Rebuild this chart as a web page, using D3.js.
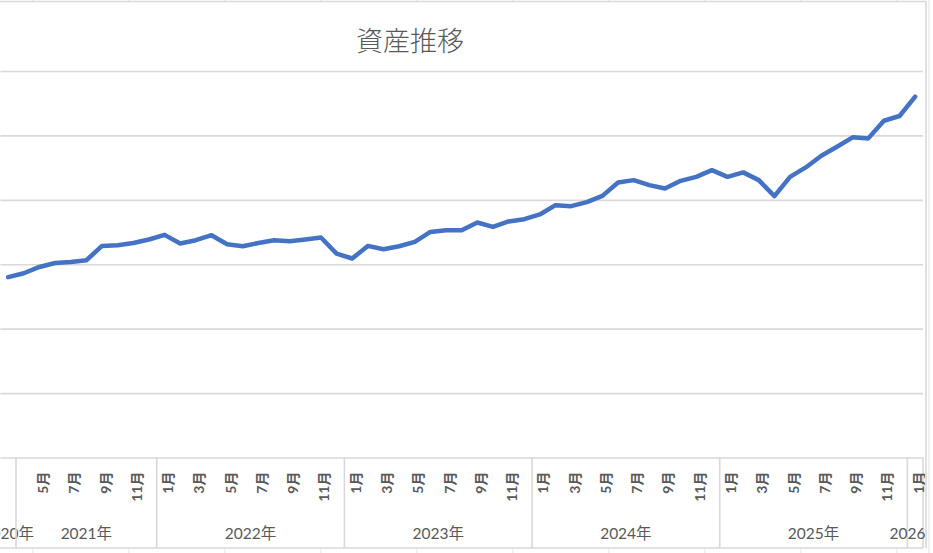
<!DOCTYPE html>
<html>
<head>
<meta charset="utf-8">
<script src="https://cdn.jsdelivr.net/npm/d3@7"></script>
<style>
  html, body { margin: 0; padding: 0; background: #ffffff; }
  svg { display: block; }
</style>
</head>
<body>
<svg id="chart" width="933" height="553"></svg>
<script>
// ---- data ----
const title = "資産推移";
const yearLabels = ["2020年", "2021年", "2022年", "2023年", "2024年", "2025年", "2026年"];
const yearSizes = [1, 9, 12, 12, 12, 12, 1];
const monthLabels = [
  "",
  "4月","5月","6月","7月","8月","9月","10月","11月","12月",
  "1月","2月","3月","4月","5月","6月","7月","8月","9月","10月","11月","12月",
  "1月","2月","3月","4月","5月","6月","7月","8月","9月","10月","11月","12月",
  "1月","2月","3月","4月","5月","6月","7月","8月","9月","10月","11月","12月",
  "1月","2月","3月","4月","5月","6月","7月","8月","9月","10月","11月","12月",
  "1月"
];
const values = [
  2800,
  2860, 2958, 3020, 3036, 3062, 3285, 3296, 3331, 3384,
  3456, 3322, 3373, 3451, 3311, 3280, 3331, 3373, 3358, 3384, 3415, 3166,
  3089, 3285, 3233, 3280, 3347, 3502, 3529, 3529, 3648, 3580, 3664, 3700,
  3773, 3917, 3902, 3964, 4062, 4270, 4306, 4228, 4177, 4295, 4357, 4461,
  4357, 4426, 4306, 4057, 4357, 4503, 4684, 4824, 4970, 4954, 5228, 5301,
  5601
];
const yDomain = [0, 6000];
const yTickCount = 6;

// ---- layout ----
const W = 933, H = 553;
const plot = { left: 0.36, right: 923, top: 71, bottom: 457.5 };
const chartRight = 926, chartTop = 1.5, chartBottom = 548;
const gridColor = "#d9d9d9";
const textColor = "#595959";

const svg = d3.select("#chart");

// spreadsheet background hints
const sheet = svg.append("g");
d3.range(33, W, 96).forEach(x => {
  sheet.append("line").attr("x1", x).attr("x2", x).attr("y1", 0).attr("y2", chartTop)
    .attr("stroke", "#e3e3e3").attr("stroke-width", 1);
  sheet.append("line").attr("x1", x).attr("x2", x).attr("y1", chartBottom + 1).attr("y2", H)
    .attr("stroke", "#e3e3e3").attr("stroke-width", 1);
});
sheet.append("line").attr("x1", 929).attr("x2", 929).attr("y1", 0).attr("y2", H)
  .attr("stroke", "#e3e3e3").attr("stroke-width", 1);

svg.append("defs").append("clipPath").attr("id", "chartClip")
  .append("rect").attr("x", -20).attr("y", 0).attr("width", chartRight + 20 - 1).attr("height", H);

const g = svg.append("g").attr("clip-path", "url(#chartClip)");

// chart area background
g.append("rect").attr("x", -20).attr("y", chartTop).attr("width", chartRight + 20)
  .attr("height", chartBottom - chartTop).attr("fill", "#ffffff");

const n = values.length;
const x = d3.scaleBand().domain(d3.range(n)).range([plot.left, plot.right]).padding(0);
const bw = x.bandwidth();
const cx = i => x(i) + bw / 2;
const y = d3.scaleLinear().domain(yDomain).range([plot.bottom, plot.top]);

// title
g.append("text").attr("x", 410).attr("y", 39.5)
  .attr("text-anchor", "middle").attr("dominant-baseline", "central")
  .attr("font-family", "'Noto Sans CJK JP', sans-serif").attr("font-weight", 300)
  .attr("font-size", 27).attr("fill", textColor).text(title);

// gridlines
const yAxis = d3.axisLeft(y).ticks(yTickCount).tickSize(-(plot.right - plot.left)).tickFormat("");
const ga = g.append("g").attr("transform", `translate(${plot.left},0)`).call(yAxis);
ga.select(".domain").remove();
ga.selectAll(".tick line").attr("stroke", gridColor).attr("stroke-width", 1.6);

// multi-level category axis
const axisG = g.append("g");
axisG.append("line").attr("x1", -20).attr("x2", plot.right).attr("y1", chartBottom).attr("y2", chartBottom)
  .attr("stroke", gridColor).attr("stroke-width", 1.6);

// year group boundaries
let start = 0;
const groups = yearSizes.map((s, k) => {
  const gObj = { label: yearLabels[k], start, end: start + s };
  start += s;
  return gObj;
});
groups.forEach((gr, k) => {
  const xs = x(gr.start);
  const xe = gr.end >= n ? plot.right : x(gr.end);
  if (k > 0) {
    axisG.append("line").attr("x1", xs).attr("x2", xs).attr("y1", plot.bottom).attr("y2", chartBottom)
      .attr("stroke", gridColor).attr("stroke-width", 1.6);
  }
  if (gr.end >= n) {
    axisG.append("line").attr("x1", xe).attr("x2", xe).attr("y1", plot.bottom).attr("y2", chartBottom)
      .attr("stroke", gridColor).attr("stroke-width", 1.6);
  }
  axisG.append("text").attr("x", (xs + xe) / 2).attr("y", 533)
    .attr("text-anchor", "middle").attr("dominant-baseline", "central")
    .attr("font-family", "Lato, 'Noto Sans CJK JP', sans-serif")
    .attr("font-size", 15.5).attr("fill", textColor).text(gr.label);
});

// month labels (every other category), rotated
monthLabels.forEach((m, i) => {
  if (i % 2 !== 0 || !m) return;
  const tx = cx(i) + 3, ty = 471.5;
  axisG.append("text")
    .attr("transform", `translate(${tx},${ty}) rotate(-90)`)
    .attr("text-anchor", "end").attr("dominant-baseline", "central")
    .attr("font-family", "Lato, 'Noto Sans CJK JP', sans-serif")
    .attr("font-weight", 700)
    .attr("font-size", 14).attr("fill", textColor).text(m);
});

// line
const line = d3.line().x((d, i) => cx(i)).y(d => y(d));
g.append("path").datum(values).attr("d", line)
  .attr("fill", "none").attr("stroke", "#4472C4").attr("stroke-width", 4.5)
  .attr("stroke-linejoin", "round").attr("stroke-linecap", "round");

// chart border (top and right)
svg.append("line").attr("x1", 0).attr("x2", chartRight).attr("y1", chartTop).attr("y2", chartTop)
  .attr("stroke", gridColor).attr("stroke-width", 1.6);
svg.append("line").attr("x1", chartRight).attr("x2", chartRight).attr("y1", chartTop).attr("y2", chartBottom)
  .attr("stroke", gridColor).attr("stroke-width", 1.6);
</script>
</body>
</html>
